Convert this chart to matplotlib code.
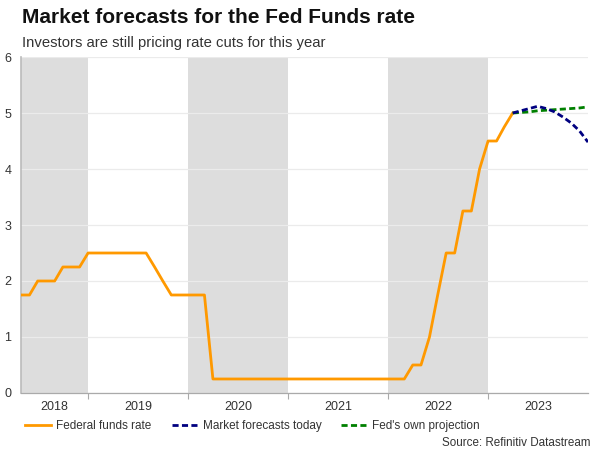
import matplotlib
matplotlib.use("Agg")
import matplotlib.pyplot as plt
import pandas as pd
from matplotlib.lines import Line2D

plt.rcParams['font.family'] = ['Liberation Sans', 'DejaVu Sans']

# ---- data ----
fed_start = "2018-05-01"
fed_rate = [1.75, 1.75, 2.0, 2.0, 2.0, 2.25, 2.25, 2.25,
            2.5, 2.5, 2.5, 2.5, 2.5, 2.5, 2.5, 2.5, 2.25, 2.0, 1.75, 1.75,
            1.75, 1.75, 1.75, 0.25, 0.25, 0.25, 0.25, 0.25, 0.25, 0.25, 0.25, 0.25,
            0.25, 0.25, 0.25, 0.25, 0.25, 0.25, 0.25, 0.25, 0.25, 0.25, 0.25, 0.25,
            0.25, 0.25, 0.25, 0.5, 0.5, 1.0, 1.75, 2.5, 2.5, 3.25, 3.25, 4.0,
            4.5, 4.5, 4.75, 5.0]
fc_start = "2023-04-01"
market_fc = [5.0, 5.04, 5.08, 5.12, 5.08, 5.02, 4.93, 4.82, 4.68, 4.48]
fed_proj = [5.0, 5.01, 5.02, 5.04, 5.05, 5.06, 5.07, 5.08, 5.09, 5.11]
years = [2018, 2019, 2020, 2021, 2022, 2023]
shaded_years = [2018, 2020, 2022]
y_ticks = [0, 1, 2, 3, 4, 5, 6]

fed_dates = pd.date_range(fed_start, periods=len(fed_rate), freq="MS")
fc_dates = pd.date_range(fc_start, periods=len(market_fc), freq="MS")

fig = plt.figure(figsize=(6, 4.5), dpi=100)
ax = fig.add_axes([0.035, 0.1267, 0.945, 0.7466])

xmin = pd.Timestamp("2018-05-01")
xmax = pd.Timestamp("2024-01-01")

for y in shaded_years:
    a = max(pd.Timestamp(f"{y}-01-01"), xmin)
    b = pd.Timestamp(f"{y+1}-01-01")
    ax.axvspan(a, b, color="#DDDDDD", lw=0, zorder=0)

dash = (0, (2.2, 1.2))
ax.plot(fed_dates, fed_rate, color="#FF9900", lw=2.0, zorder=3)
ax.plot(fc_dates, fed_proj, color="#008000", lw=2.0, ls=dash, zorder=4)
ax.plot(fc_dates, market_fc, color="#000080", lw=2.0, ls=dash, zorder=5)

ax.set_xlim(xmin, xmax)
ax.set_ylim(0, 6)
ax.set_yticks(y_ticks)
ax.set_yticklabels([str(v) for v in y_ticks])
ax.grid(axis="y", color="#EBEBEB", lw=0.9, zorder=1)

# x ticks: labels centred in the visible part of each year, tick marks at year boundaries
label_pos = []
for y in years:
    a = max(pd.Timestamp(f"{y}-01-01"), xmin)
    b = min(pd.Timestamp(f"{y+1}-01-01"), xmax)
    label_pos.append(a + (b - a) / 2)
ax.set_xticks(label_pos)
ax.set_xticklabels([str(y) for y in years])
ax.set_xticks([pd.Timestamp(f"{y}-01-01") for y in years[1:]], minor=True)
ax.tick_params(axis="x", which="major", length=0, pad=6, labelsize=9, colors="#333333")
ax.tick_params(axis="x", which="minor", length=4, width=0.8, color="#AAAAAA")
ax.tick_params(axis="y", length=0, pad=7, labelsize=9, colors="#333333")

for s in ["top", "right"]:
    ax.spines[s].set_visible(False)
ax.spines["left"].set_color("#BBBBBB")
ax.spines["left"].set_linewidth(1.2)
ax.spines["bottom"].set_color("#AAAAAA")
ax.spines["bottom"].set_linewidth(0.9)

fig.text(0.036, 0.962, "Market forecasts for the Fed Funds rate", fontsize=15,
         fontweight="bold", ha="left", va="center", color="#111111")
fig.text(0.036, 0.905, "Investors are still pricing rate cuts for this year", fontsize=10.7,
         ha="left", va="center", color="#333333")

handles = [Line2D([], [], color="#FF9900", lw=2.0),
           Line2D([], [], color="#000080", lw=2.0, ls=dash),
           Line2D([], [], color="#008000", lw=2.0, ls=dash)]
labels = ["Federal funds rate", "Market forecasts today", "Fed's own projection"]
fig.legend(handles, labels, loc="center left", bbox_to_anchor=(0.0385, 0.053), ncol=3,
           frameon=False, fontsize=8.5, handlelength=2.2, handletextpad=0.42,
           columnspacing=1.7, labelcolor="#333333", borderaxespad=0, borderpad=0.2)

fig.text(0.985, 0.015, "Source: Refinitiv Datastream", fontsize=8.4, ha="right",
         va="center", color="#333333")

fig.savefig("out.png", dpi=100)
